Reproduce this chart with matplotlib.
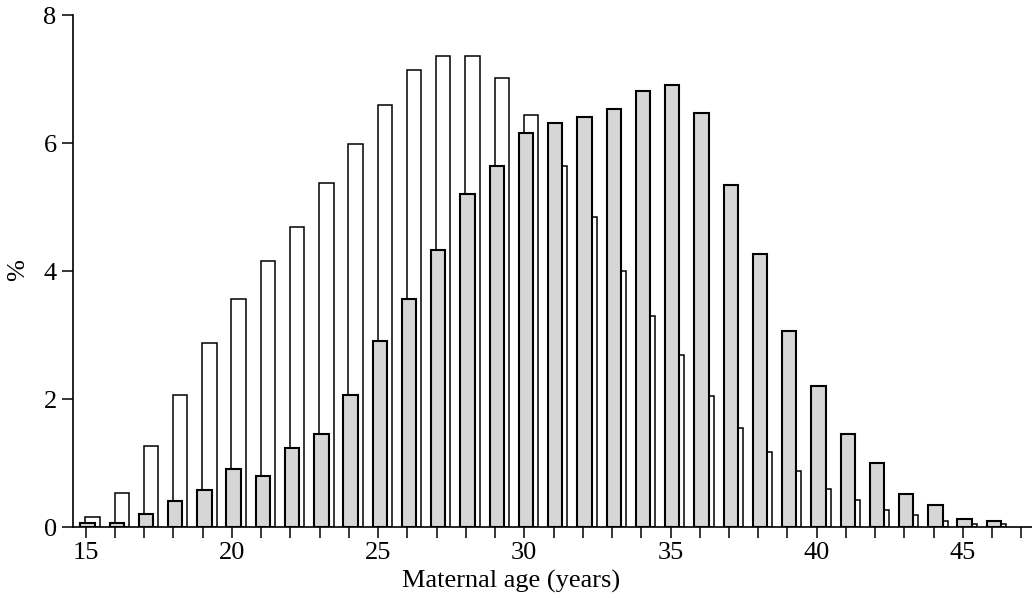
import matplotlib
matplotlib.use("Agg")
import matplotlib.pyplot as plt
import numpy as np

# ---- data ----
ages = list(range(15, 47))
grey_pct = [0.07, 0.07, 0.20, 0.41, 0.58, 0.90, 0.79, 1.23, 1.45, 2.06,
            2.90, 3.57, 4.33, 5.21, 5.64, 6.16, 6.32, 6.40, 6.53, 6.82,
            6.90, 6.47, 5.34, 4.26, 3.06, 2.21, 1.45, 1.00, 0.51, 0.34,
            0.13, 0.09]
white_pct = [0.16, 0.53, 1.27, 2.07, 2.87, 3.57, 4.16, 4.69, 5.37, 5.99,
             6.59, 7.14, 7.36, 7.36, 7.02, 6.44, 5.64, 4.85, 4.00, 3.29,
             2.69, 2.04, 1.54, 1.17, 0.88, 0.59, 0.42, 0.26, 0.18, 0.09,
             0.05, 0.05]
x_tick_labels = [15, 20, 25, 30, 35, 40, 45]
y_ticks = [0, 2, 4, 6, 8]

plt.rcParams['font.family'] = ['Liberation Serif', 'DejaVu Serif']

W, H = 1032, 598
fig = plt.figure(figsize=(W / 100, H / 100), dpi=100)
left_px, right_px = 73.3, 1032
bottom_px, top_px = 527, 15
ax_w = right_px - left_px
ax_h = bottom_px - top_px
ax = fig.add_axes([left_px / W, 1 - bottom_px / H, ax_w / W, ax_h / H])

x = np.array(ages, dtype=float)
width = 0.49
ax.bar(x + 0.23, white_pct, width=width, facecolor='white',
       edgecolor='black', linewidth=1.1, zorder=2)
ax.bar(x + 0.06, grey_pct, width=width, facecolor='#d6d6d6',
       edgecolor='black', linewidth=1.5, zorder=3)

ppx = 29.24
x0 = 15 - (85.7 - left_px) / ppx
ax.set_xlim(x0, x0 + ax_w / ppx)
ax.set_ylim(0, 8)

ax.spines['top'].set_visible(False)
ax.spines['right'].set_visible(False)
ax.spines['left'].set_linewidth(1.2)
ax.spines['bottom'].set_linewidth(1.2)
ax.spines['left'].set_bounds(0, 8)

ax.set_xticks(range(15, 48))
ax.set_xticklabels([str(a) if a in x_tick_labels else '' for a in range(15, 48)])
ax.set_yticks(y_ticks)
ax.set_yticklabels([str(v) for v in y_ticks])
ax.tick_params(axis='both', direction='out', length=8, width=1.1,
               labelsize=19, colors='black')
ax.tick_params(axis='x', pad=3)
ax.tick_params(axis='y', pad=4)

ax.set_xlabel('Maternal age (years)', fontsize=19)
ax.xaxis.set_label_coords((511 - left_px) / ax_w, -(581 - bottom_px) / ax_h)
ax.xaxis.label.set_verticalalignment('center')
ax.set_ylabel('%', fontsize=19)
ax.yaxis.set_label_coords((18 - left_px) / ax_w, (bottom_px - 270) / ax_h)
ax.yaxis.label.set_verticalalignment('center')

fig.savefig('out.png', dpi=100)
